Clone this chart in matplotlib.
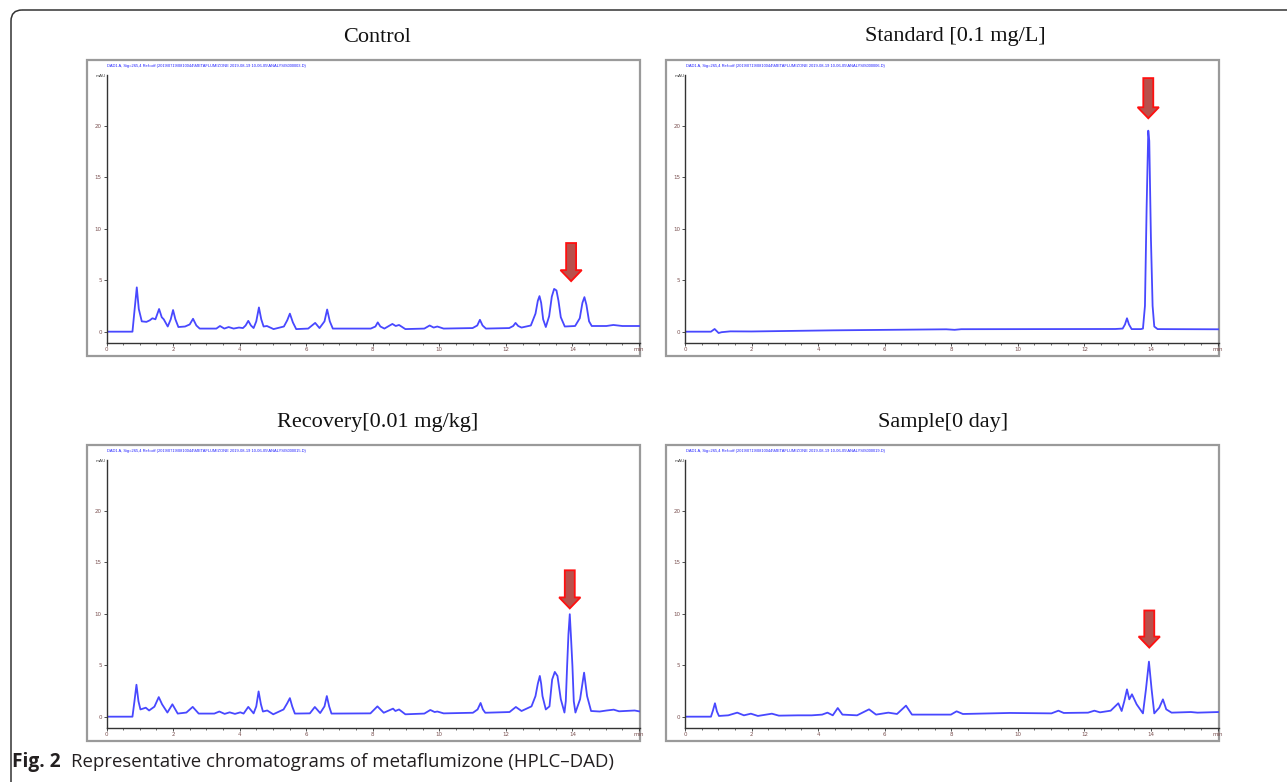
import numpy as np
import matplotlib.pyplot as plt
from matplotlib.patches import Rectangle, FancyArrow, FancyBboxPatch

# chromatogram traces: retention time (min) / signal (mAU)
control_t = [0, 0.78, 0.84, 0.91, 0.97, 1.06, 1.2, 1.3, 1.38, 1.47, 1.58, 1.66, 1.72, 1.84,
             1.93, 2.0, 2.07, 2.16, 2.36, 2.5, 2.6, 2.7, 2.8, 3.15, 3.3, 3.41, 3.54, 3.67,
             3.82, 3.98, 4.1, 4.18, 4.26, 4.34, 4.42, 4.5, 4.58, 4.65, 4.72, 4.82, 5.02,
             5.33, 5.43, 5.51, 5.6, 5.7, 6.06, 6.27, 6.4, 6.55, 6.63, 6.71, 6.8, 7.94,
             8.08, 8.15, 8.23, 8.35, 8.59, 8.69, 8.79, 8.98, 9.55, 9.71, 9.83, 9.94, 10.13,
             11.0, 11.14, 11.22, 11.3, 11.4, 12.1, 12.22, 12.29, 12.37, 12.47, 12.75, 12.89,
             12.96, 13.01, 13.06, 13.12, 13.2, 13.3, 13.38, 13.45, 13.52, 13.58, 13.65,
             13.77, 14.08, 14.22, 14.3, 14.36, 14.42, 14.5, 14.58, 15.02, 15.23, 15.5, 16.03]
control_v = [0, 0, 2.0, 4.3, 2.2, 1.0, 0.95, 1.1, 1.3, 1.2, 2.2, 1.4, 1.2, 0.5,
             1.2, 2.1, 1.2, 0.45, 0.5, 0.7, 1.25, 0.6, 0.3, 0.3, 0.3, 0.55, 0.3, 0.45,
             0.3, 0.4, 0.35, 0.6, 1.05, 0.6, 0.35, 1.0, 2.35, 1.2, 0.5, 0.55, 0.25,
             0.5, 1.1, 1.75, 0.9, 0.25, 0.3, 0.85, 0.35, 1.0, 2.15, 1.0, 0.3, 0.3,
             0.5, 0.9, 0.5, 0.3, 0.75, 0.55, 0.65, 0.25, 0.3, 0.6, 0.4, 0.5, 0.3,
             0.35, 0.6, 1.15, 0.6, 0.3, 0.35, 0.55, 0.85, 0.55, 0.4, 0.6, 1.75,
             3.0, 3.45, 2.8, 1.2, 0.45, 1.5, 3.4, 4.15, 4.0, 3.0, 1.4,
             0.5, 0.55, 1.3, 2.8, 3.35, 2.6, 1.0, 0.55, 0.55, 0.65, 0.55, 0.55]

standard_t = [0, 0.78, 0.89, 1.01, 1.1, 1.36, 2.0, 4.47, 7.85, 8.1, 8.3, 12.93, 13.15, 13.22,
              13.28, 13.34, 13.42, 13.7, 13.76, 13.82, 13.87, 13.92, 13.95, 14.0, 14.05,
              14.1, 14.2, 16.03]
standard_v = [0, 0, 0.26, -0.13, -0.05, 0.03, 0.02, 0.13, 0.23, 0.18, 0.24, 0.26, 0.3, 0.7,
              1.3, 0.7, 0.25, 0.25, 0.3, 2.5, 12.0, 19.5, 18.5, 9.0, 2.5,
              0.5, 0.25, 0.23]

recovery_t = [0, 0.78, 0.84, 0.9, 0.96, 1.02, 1.18, 1.28, 1.44, 1.57, 1.67, 1.83, 1.98, 2.14,
              2.4, 2.59, 2.77, 3.24, 3.39, 3.55, 3.7, 3.86, 4.02, 4.12, 4.26, 4.42, 4.5,
              4.57, 4.64, 4.7, 4.83, 5.01, 5.32, 5.43, 5.51, 5.58, 5.66, 6.11, 6.26, 6.42,
              6.55, 6.62, 6.69, 6.76, 7.93, 8.14, 8.33, 8.61, 8.68, 8.79, 8.98, 9.55, 9.73,
              9.86, 9.94, 10.13, 11.01, 11.15, 11.24, 11.31, 11.38, 12.11, 12.3, 12.47,
              12.77, 12.89, 12.96, 13.02, 13.06, 13.1, 13.2, 13.31, 13.39, 13.47, 13.55,
              13.65, 13.76, 13.8, 13.84, 13.88, 13.92, 13.96, 14.0, 14.04, 14.09, 14.23,
              14.35, 14.44, 14.56, 14.82, 15.03, 15.24, 15.4, 15.87, 16.03]
recovery_v = [0, 0, 1.5, 3.1, 1.5, 0.7, 0.87, 0.6, 0.97, 1.9, 1.2, 0.4, 1.2, 0.3,
              0.4, 0.95, 0.3, 0.3, 0.5, 0.27, 0.42, 0.27, 0.42, 0.3, 0.95, 0.32, 1.0,
              2.45, 1.2, 0.5, 0.6, 0.23, 0.7, 1.3, 1.8, 1.0, 0.3, 0.32, 0.94, 0.35,
              1.0, 2.0, 1.0, 0.3, 0.32, 1.0, 0.38, 0.78, 0.55, 0.7, 0.23, 0.3, 0.65,
              0.45, 0.5, 0.32, 0.38, 0.7, 1.33, 0.7, 0.38, 0.45, 0.94, 0.55,
              1.0, 2.0, 3.2, 3.95, 3.2, 2.0, 0.7, 1.0, 3.6, 4.34, 3.95,
              1.7, 0.4, 1.5, 4.9, 8.0, 9.94, 7.5, 4.9, 1.5, 0.4, 1.7,
              4.27, 2.0, 0.55, 0.5, 0.6, 0.68, 0.52, 0.6, 0.5]

sample_t = [0, 0.78, 0.84, 0.9, 0.96, 1.02, 1.3, 1.57, 1.77, 1.98, 2.19, 2.61, 2.82, 3.39,
            3.81, 4.12, 4.28, 4.44, 4.59, 4.73, 5.17, 5.53, 5.74, 6.11, 6.37, 6.64, 6.82,
            7.99, 8.16, 8.35, 9.76, 11.01, 11.22, 11.38, 12.11, 12.3, 12.47, 12.79, 13.02,
            13.12, 13.2, 13.28, 13.35, 13.43, 13.57, 13.76, 13.85, 13.94, 14.02, 14.1,
            14.25, 14.36, 14.46, 14.62, 15.2, 15.4, 16.03]
sample_v = [0, 0, 0.6, 1.3, 0.5, 0.07, 0.13, 0.39, 0.13, 0.29, 0.07, 0.29, 0.1, 0.13,
            0.13, 0.2, 0.39, 0.13, 0.84, 0.2, 0.13, 0.71, 0.2, 0.39, 0.26, 1.07, 0.2,
            0.2, 0.52, 0.26, 0.36, 0.32, 0.58, 0.36, 0.39, 0.58, 0.42, 0.58, 1.3,
            0.55, 1.5, 2.65, 1.68, 2.17, 1.2, 0.32, 2.65, 5.34, 2.65, 0.32,
            0.87, 1.68, 0.71, 0.39, 0.45, 0.39, 0.45]

titles = ['Control', 'Standard [0.1 mg/L]', 'Recovery[0.01 mg/kg]', 'Sample[0 day]']
headers = ['DAD1 A, Sig=265,4 Ref=off (2019\\0719\\0810044\\METAFLUMIZONE 2019-08-19 10-06-05\\ANALYSIS000003.D)',
           'DAD1 A, Sig=265,4 Ref=off (2019\\0719\\0810044\\METAFLUMIZONE 2019-08-19 10-06-05\\ANALYSIS000006.D)',
           'DAD1 A, Sig=265,4 Ref=off (2019\\0719\\0810044\\METAFLUMIZONE 2019-08-19 10-06-05\\ANALYSIS000015.D)',
           'DAD1 A, Sig=265,4 Ref=off (2019\\0719\\0810044\\METAFLUMIZONE 2019-08-19 10-06-05\\ANALYSIS000019.D)']
traces = [(control_t, control_v), (standard_t, standard_v),
          (recovery_t, recovery_v), (sample_t, sample_v)]
xticks = [0, 2, 4, 6, 8, 10, 12, 14, 16]
xticklabels = ['0', '2', '4', '6', '8', '10', '12', '14', 'min']
yticks = [0, 5, 10, 15, 20]

W, H = 1287, 782
fig = plt.figure(figsize=(W / 100, H / 100), dpi=100)

# background axes in pixel units for frames and caption
bg = fig.add_axes([0, 0, 1, 1])
bg.set_xlim(0, W)
bg.set_ylim(H, 0)
bg.axis('off')

bg.add_patch(FancyBboxPatch((11, 10), 1400, 900, boxstyle='round,pad=0,rounding_size=11',
                            fill=False, ec='#333333', lw=1.1))
bg.text(12, 762, 'Fig. 2', fontsize=13.8, fontweight='bold', family='Open Sans',
        va='center', ha='left', color='#231f20')
bg.text(71, 762, 'Representative chromatograms of metaflumizone (HPLC\u2013DAD)', fontsize=13.4,
        family='Open Sans', va='center', ha='left', color='#231f20')

# layout per panel: column x-offset, row y-offset, title centre x
cols = [0, 578.5]
rows = [0, 385]
title_x = [377, 955, 378, 943]
# arrow (time, top, tip) in data units
arrows = [(13.96, 8.6, 4.9), (13.92, 24.6, 20.7), (13.92, 14.2, 10.5), (13.95, 10.3, 6.7)]

for i, (t, v) in enumerate(traces):
    dx = cols[i % 2]
    dy = rows[i // 2]
    bg.add_patch(Rectangle((87 + dx, 60 + dy), 553, 296, fill=False, ec='#9a9a9a', lw=1.6))
    bg.text(title_x[i], 37 + dy, titles[i], fontsize=16, family='Liberation Serif',
            ha='center', va='center', color='#111111')
    bg.text(107 + dx, 66 + dy, headers[i], fontsize=2.9, family='Liberation Sans',
            ha='left', va='center', color='#2020ff')
    bg.text(101 + dx, 76 + dy, 'mAU', fontsize=3.2, ha='center', va='center', color='#444444')

    x0, x1 = 106.5 + dx, 640 + dx
    y0, y1 = 75 + dy, 342.7 + dy
    ax = fig.add_axes([x0 / W, 1 - y1 / H, (x1 - x0) / W, (y1 - y0) / H])
    ax.patch.set_visible(False)
    ax.plot(t, v, color='#4848ff', lw=1.3, solid_joinstyle='round')
    ax.set_xlim(0, 16.03)
    ax.set_ylim(-1.07, 24.9)
    for s in ['top', 'right']:
        ax.spines[s].set_visible(False)
    for s in ['left', 'bottom']:
        ax.spines[s].set_color('#333333')
        ax.spines[s].set_linewidth(1.0)
    ax.set_xticks(xticks)
    ax.set_xticklabels(xticklabels)
    ax.set_xticks(np.arange(0, 16.01, 0.5), minor=True)
    ax.set_yticks(yticks)
    ax.set_yticklabels([str(y) for y in yticks])
    ax.tick_params(axis='both', which='major', direction='out', length=2.2, width=0.6,
                   labelsize=4, pad=1.2, colors='#333333', labelcolor='#7a5050')
    ax.tick_params(axis='both', which='minor', direction='out', length=1.3, width=0.5,
                   colors='#333333')

    at, top, tip = arrows[i]
    ax.add_patch(FancyArrow(at, top, 0, tip - top, width=0.3, head_width=0.64,
                            head_length=1.07, length_includes_head=True,
                            fc='#b9504b', ec='#ff1010', lw=1.3, zorder=5))

fig.savefig('out.png', dpi=100)
